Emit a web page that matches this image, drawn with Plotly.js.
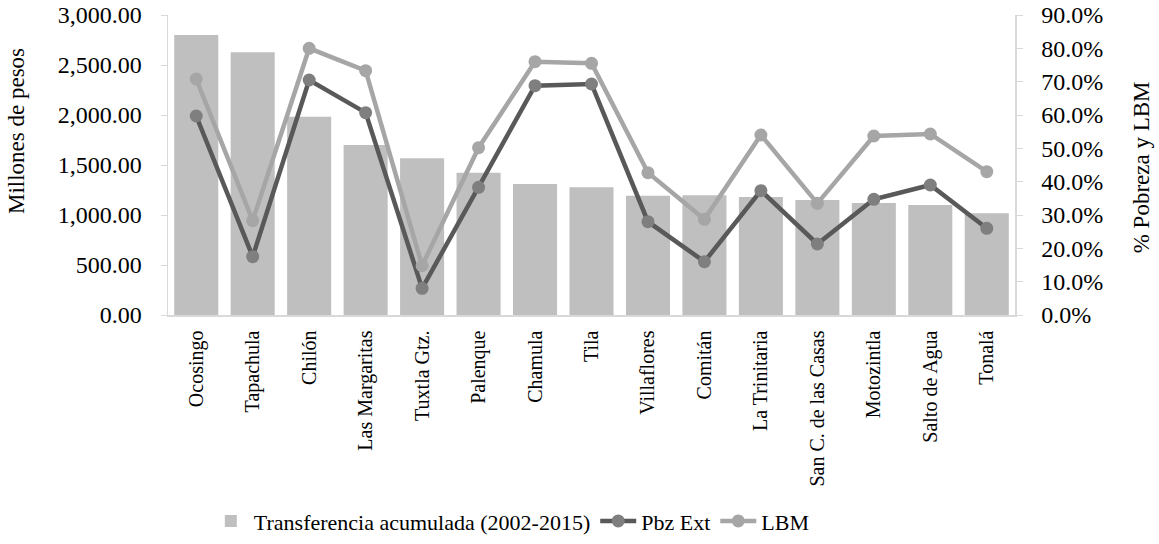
<!DOCTYPE html>
<html>
<head>
<meta charset="utf-8">
<script src="https://cdn.plot.ly/plotly-3.0.1.min.js"></script>
<style>body{margin:0;background:#fff}#chart{width:1159px;height:544px}</style>
</head>
<body>
<div id="chart"></div>
<script>
const categories = ["Ocosingo","Tapachula","Chilón","Las Margaritas","Tuxtla Gtz.","Palenque","Chamula","Tila","Villaflores","Comitán","La Trinitaria","San C. de las Casas","Motozintla","Salto de Agua","Tonalá"];
const transferencia = [2800, 2627, 1983, 1700, 1567, 1423, 1310, 1277, 1193, 1197, 1180, 1150, 1120, 1100, 1017];
const pbzExt = [0.597, 0.175, 0.705, 0.607, 0.080, 0.383, 0.688, 0.693, 0.280, 0.160, 0.373, 0.213, 0.347, 0.390, 0.260];
const lbm = [0.708, 0.283, 0.800, 0.733, 0.148, 0.502, 0.760, 0.755, 0.427, 0.287, 0.540, 0.335, 0.537, 0.543, 0.430];
const leftTitle = 'Millones de pesos';
const rightTitle = '% Pobreza y LBM';

const font = "Liberation Serif";

const traces = [
  {type:'bar', x:categories, y:transferencia, name:'Transferencia acumulada (2002-2015)',
   marker:{color:'#bfbfbf'}, yaxis:'y'},
  {type:'scatter', mode:'lines+markers', x:categories, y:pbzExt, name:'Pbz Ext', yaxis:'y2',
   line:{color:'#595959', width:4.5}, marker:{color:'#7f7f7f', size:13}},
  {type:'scatter', mode:'lines+markers', x:categories, y:lbm, name:'LBM', yaxis:'y2',
   line:{color:'#a6a6a6', width:4.5}, marker:{color:'#a6a6a6', size:13}}
];

const layout = {
  width:1159, height:544,
  margin:{l:168, r:144, t:15, b:229},
  paper_bgcolor:'#fff', plot_bgcolor:'#fff',
  font:{family:font, color:'#000', size:24},
  showlegend:true,
  bargap:0.22,
  xaxis:{type:'category', range:[-0.5,14.5], tickangle:-90, tickfont:{size:20, family:font}, automargin:false,
    showline:true, linecolor:'#d9d9d9', linewidth:1.5, ticks:'', showgrid:false, zeroline:false,
    ticklabelstandoff:6},
  yaxis:{range:[0,3000], dtick:500, tickformat:',.2f', showgrid:false, zeroline:false, automargin:false,
    showline:true, linecolor:'#d9d9d9', linewidth:1.5, ticks:'outside', ticklen:6, tickcolor:'#d9d9d9',
    ticklabelstandoff:14, tickfont:{size:24, family:font}},
  yaxis2:{range:[0,0.9], dtick:0.1, tickformat:'.1%', overlaying:'y', side:'right', showgrid:false, zeroline:false, automargin:false,
    showline:true, linecolor:'#d9d9d9', linewidth:1.5, ticks:'outside', ticklen:6, tickcolor:'#d9d9d9',
    ticklabelstandoff:14, tickfont:{size:24, family:font}},
  annotations:[
    {text:leftTitle, xref:'paper', yref:'paper', x:-0.1795, y:0.613, xanchor:'center', yanchor:'middle',
     textangle:-90, showarrow:false, font:{size:23, family:font, color:'#000'}},
    {text:rightTitle, xref:'paper', yref:'paper', x:1.149, y:0.493, xanchor:'center', yanchor:'middle',
     textangle:-90, showarrow:false, font:{size:23, family:font, color:'#000'}}
  ],
  legend:{orientation:'h', xref:'paper', x:0.047, xanchor:'left', yref:'container', y:0.042, yanchor:'middle',
    font:{size:22, family:font}, itemwidth:36, traceorder:'normal'}
};

Plotly.newPlot('chart', traces, layout, {displayModeBar:false, staticPlot:true});
</script>
</body>
</html>
